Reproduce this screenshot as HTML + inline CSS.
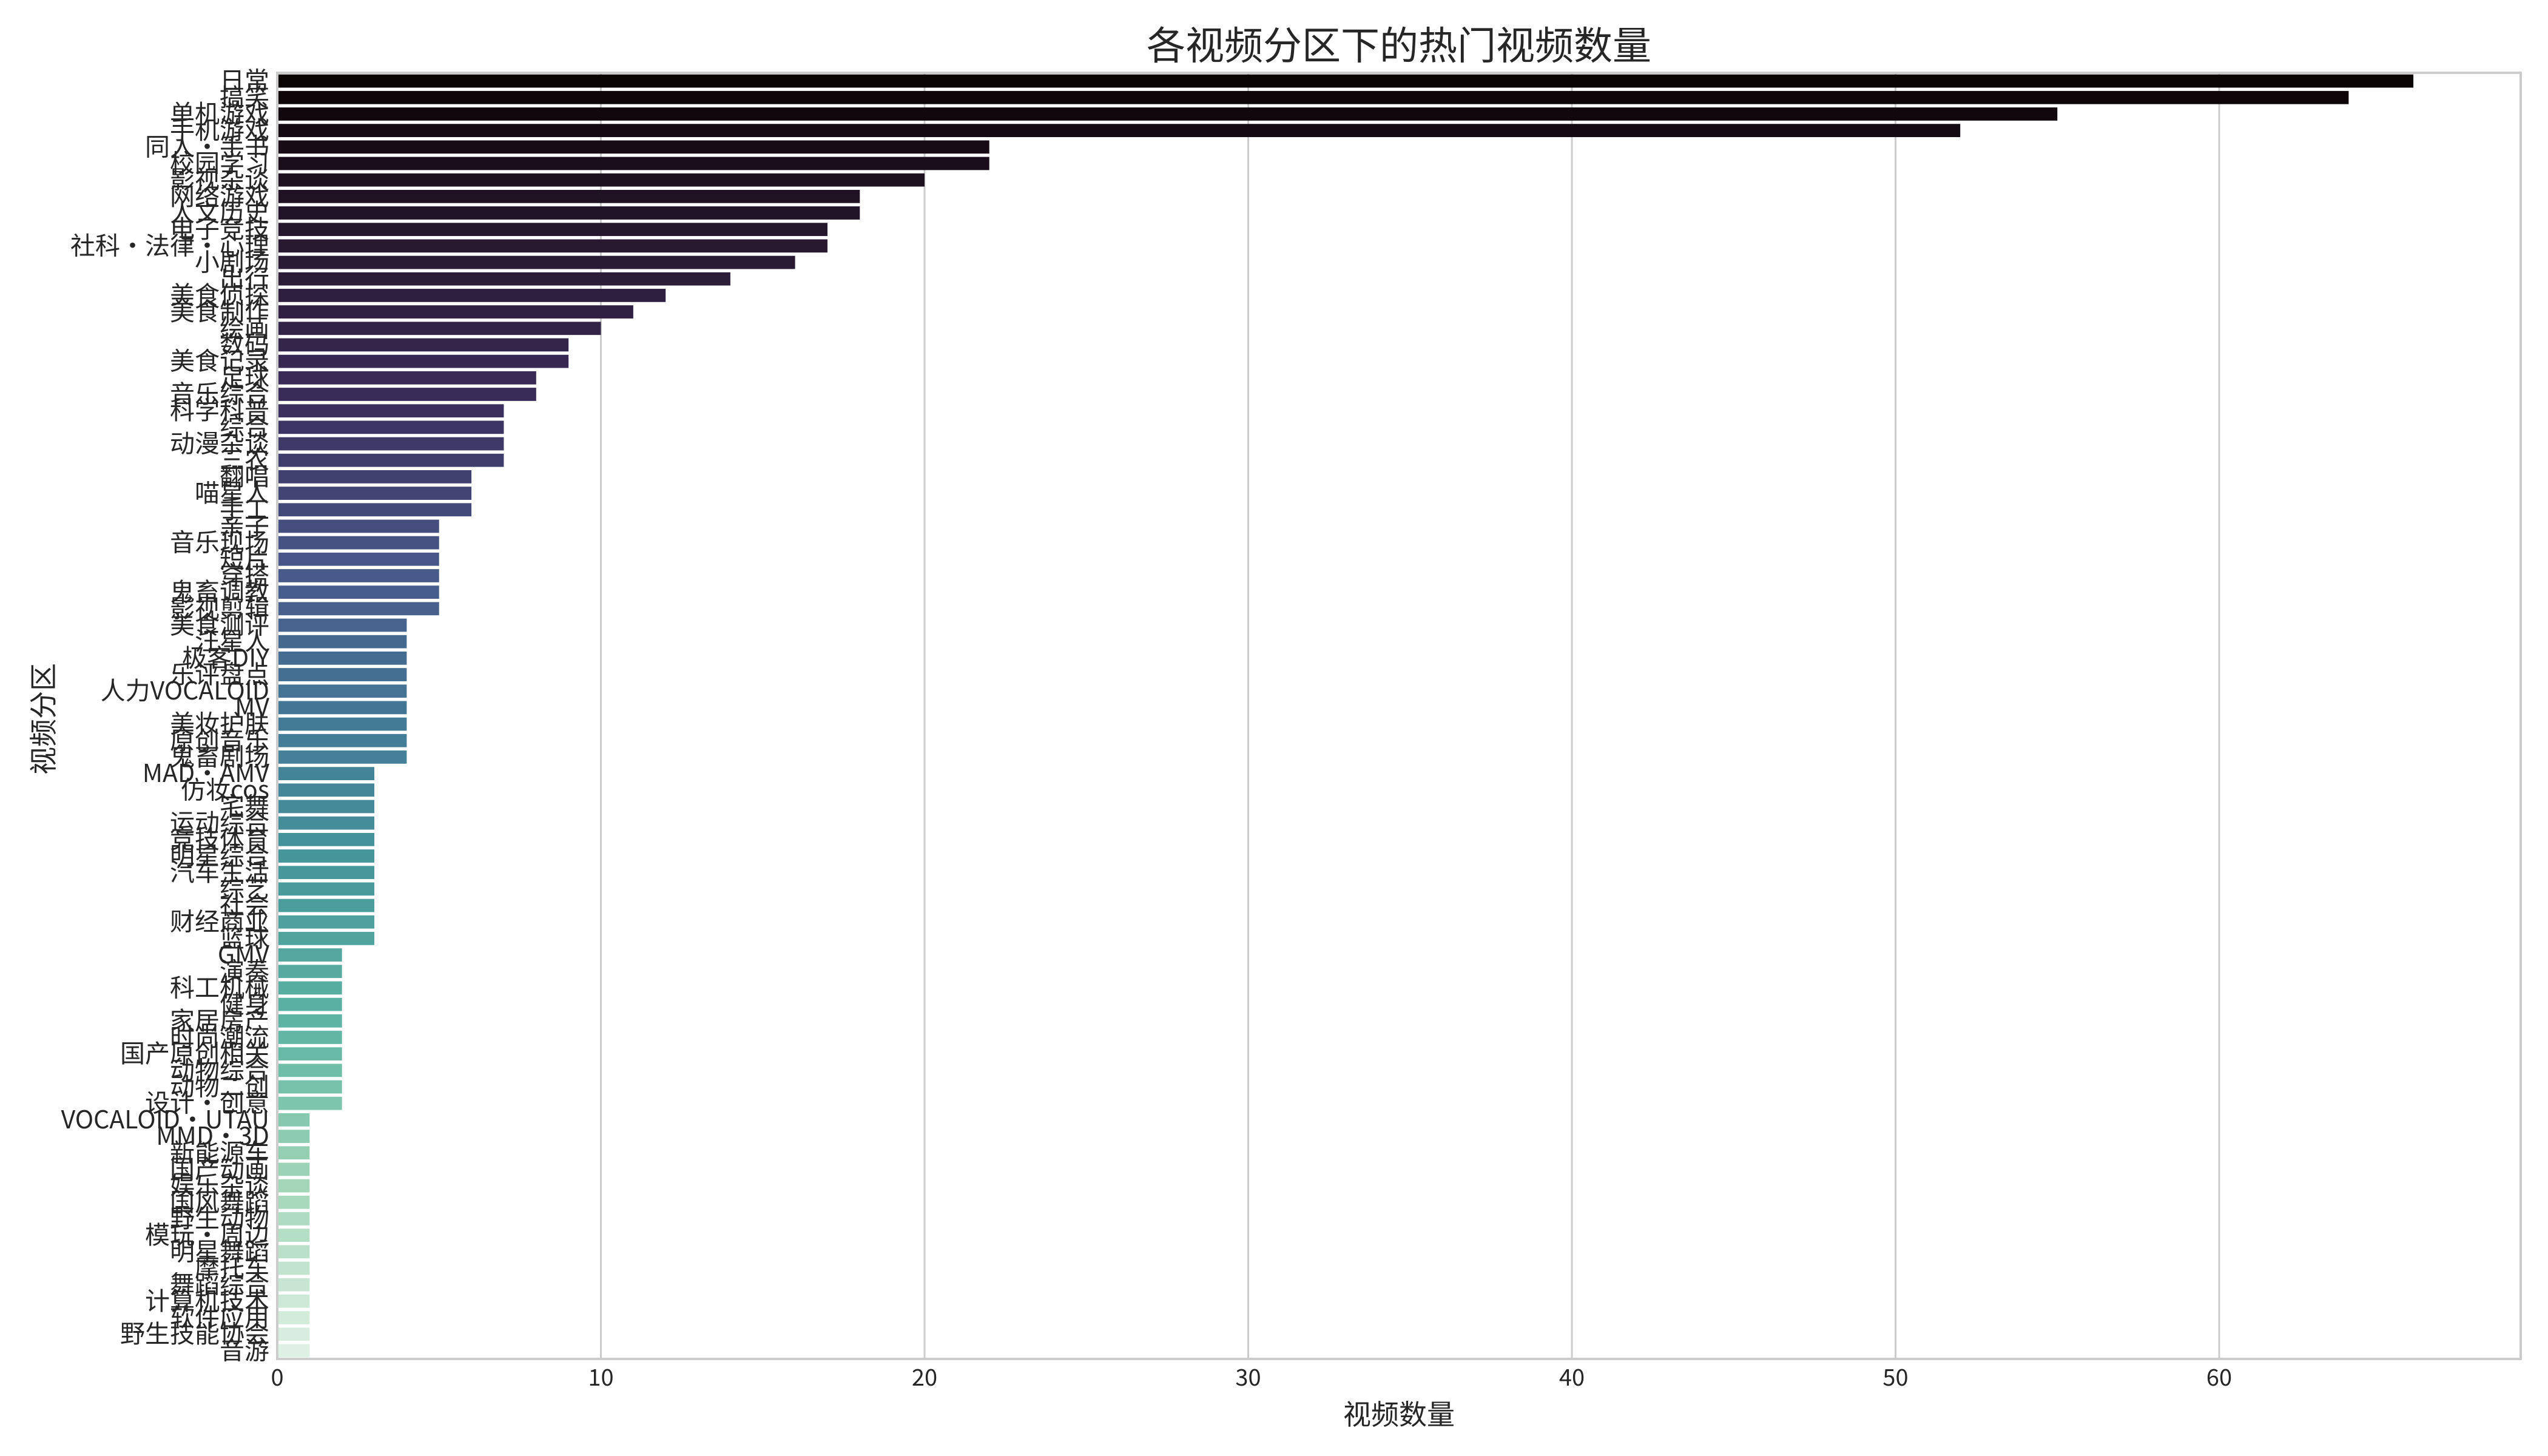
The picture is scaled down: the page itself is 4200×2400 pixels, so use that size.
<!DOCTYPE html>
<html><head><meta charset="utf-8">
<style>
html,body{margin:0;padding:0;background:#fff;}
svg{display:block;}
text{font-family:"WenQuanYi Zen Hei","Noto Sans CJK SC",sans-serif;fill:#262626;}
</style></head>
<body>
<svg id="chart" width="4200" height="2400" viewBox="0 0 4200 2400" xmlns="http://www.w3.org/2000/svg">
<rect x="0" y="0" width="4200" height="2400" fill="#fff"/>
<g id="grid"></g>
<g id="bars"></g>
<g id="ylabels"></g>
<g id="xticks"></g>
<rect x="457" y="120" width="3698" height="2120" fill="none" stroke="#cccccc" stroke-width="4"/>
<text x="2306" y="98" font-size="64" text-anchor="middle">各视频分区下的热门视频数量</text>
<text x="2306" y="2348" font-size="46" text-anchor="middle">视频数量</text>
<text x="0" y="0" font-size="46" text-anchor="middle" transform="translate(88,1185) rotate(-90)">视频分区</text>
</svg>
<script>
const categories = ["日常","搞笑","单机游戏","手机游戏","同人·手书","校园学习","影视杂谈","网络游戏","人文历史","电子竞技","社科·法律·心理","小剧场","出行","美食侦探","美食制作","绘画","数码","美食记录","足球","音乐综合","科学科普","综合","动漫杂谈","三农","翻唱","喵星人","手工","亲子","音乐现场","短片","穿搭","鬼畜调教","影视剪辑","美食测评","汪星人","极客DIY","乐评盘点","人力VOCALOID","MV","美妆护肤","原创音乐","鬼畜剧场","MAD·AMV","仿妆cos","宅舞","运动综合","竞技体育","明星综合","汽车生活","综艺","社会","财经商业","篮球","GMV","演奏","科工机械","健身","家居房产","时尚潮流","国产原创相关","动物综合","动物二创","设计·创意","VOCALOID·UTAU","MMD·3D","新能源车","国产动画","娱乐杂谈","国风舞蹈","野生动物","模玩·周边","明星舞蹈","摩托车","舞蹈综合","计算机技术","软件应用","野生技能协会","音游"];
const counts = [66,64,55,52,22,22,20,18,18,17,17,16,14,12,11,10,9,9,8,8,7,7,7,7,6,6,6,5,5,5,5,5,5,4,4,4,4,4,4,4,4,4,3,3,3,3,3,3,3,3,3,3,3,2,2,2,2,2,2,2,2,2,2,1,1,1,1,1,1,1,1,1,1,1,1,1,1,1];
const xTicks = [0,10,20,30,40,50,60];

const NS = "http://www.w3.org/2000/svg";
const L = 457, R = 4155, T = 120, B = 2240;
const xMax = (R - L) / 53.35;
function xScale(v){ return L + v / xMax * (R - L); }
const band = (B - T) / categories.length;
function yScale(i){ return T + i * band; }

const stops = [[0,"#0b0405"],[0.12,"#26172d"],[0.25,"#3a2d5a"],[0.38,"#485788"],[0.5,"#437896"],[0.62,"#46979a"],[0.75,"#5fb6a3"],[0.87,"#a3d6b9"],[1,"#def0e4"]];
function hex(h){return [1,3,5].map(k=>parseInt(h.substr(k,2),16));}
function col(t){
  for(let k=0;k<stops.length-1;k++){
    const [a,ca]=stops[k],[b,cb]=stops[k+1];
    if(t<=b){const f=(t-a)/(b-a);const A=hex(ca),Bc=hex(cb);
      return "rgb("+A.map((v,j)=>Math.round(v+(Bc[j]-v)*f)).join(",")+")";}
  }
  return stops[stops.length-1][1];
}

const grid = document.getElementById("grid");
const xt = document.getElementById("xticks");
xTicks.forEach(v=>{
  const x = xScale(v);
  if (v>0){
    const ln = document.createElementNS(NS,"line");
    
    
    ln.setAttribute("x1",x);ln.setAttribute("x2",x);ln.setAttribute("y1",T);ln.setAttribute("y2",B);
    ln.setAttribute("stroke","#cccccc");ln.setAttribute("stroke-width","3");
    grid.appendChild(ln);
  }
  const t = document.createElementNS(NS,"text");
  
  
  t.setAttribute("x",x);t.setAttribute("y",2284);t.setAttribute("font-size","38");t.setAttribute("text-anchor","middle");
  t.textContent = v;
  xt.appendChild(t);
});

const bars = document.getElementById("bars");
const yl = document.getElementById("ylabels");
categories.forEach((c,i)=>{
  const y = yScale(i);
  const r = document.createElementNS(NS,"rect");
  
  
  r.setAttribute("x",xScale(0)+1);
  r.setAttribute("y",y+band*0.1);
  r.setAttribute("width",xScale(counts[i])-xScale(0)-1);
  r.setAttribute("height",band*0.8);
  r.setAttribute("fill",col(i/(categories.length-1)));
  bars.appendChild(r);
  const t = document.createElementNS(NS,"text");
  
  
  t.setAttribute("x",444);t.setAttribute("y",y+band/2+14);
  t.setAttribute("font-size","41");t.setAttribute("text-anchor","end");
  t.textContent = c;
  yl.appendChild(t);
});
</script>
</body></html>
